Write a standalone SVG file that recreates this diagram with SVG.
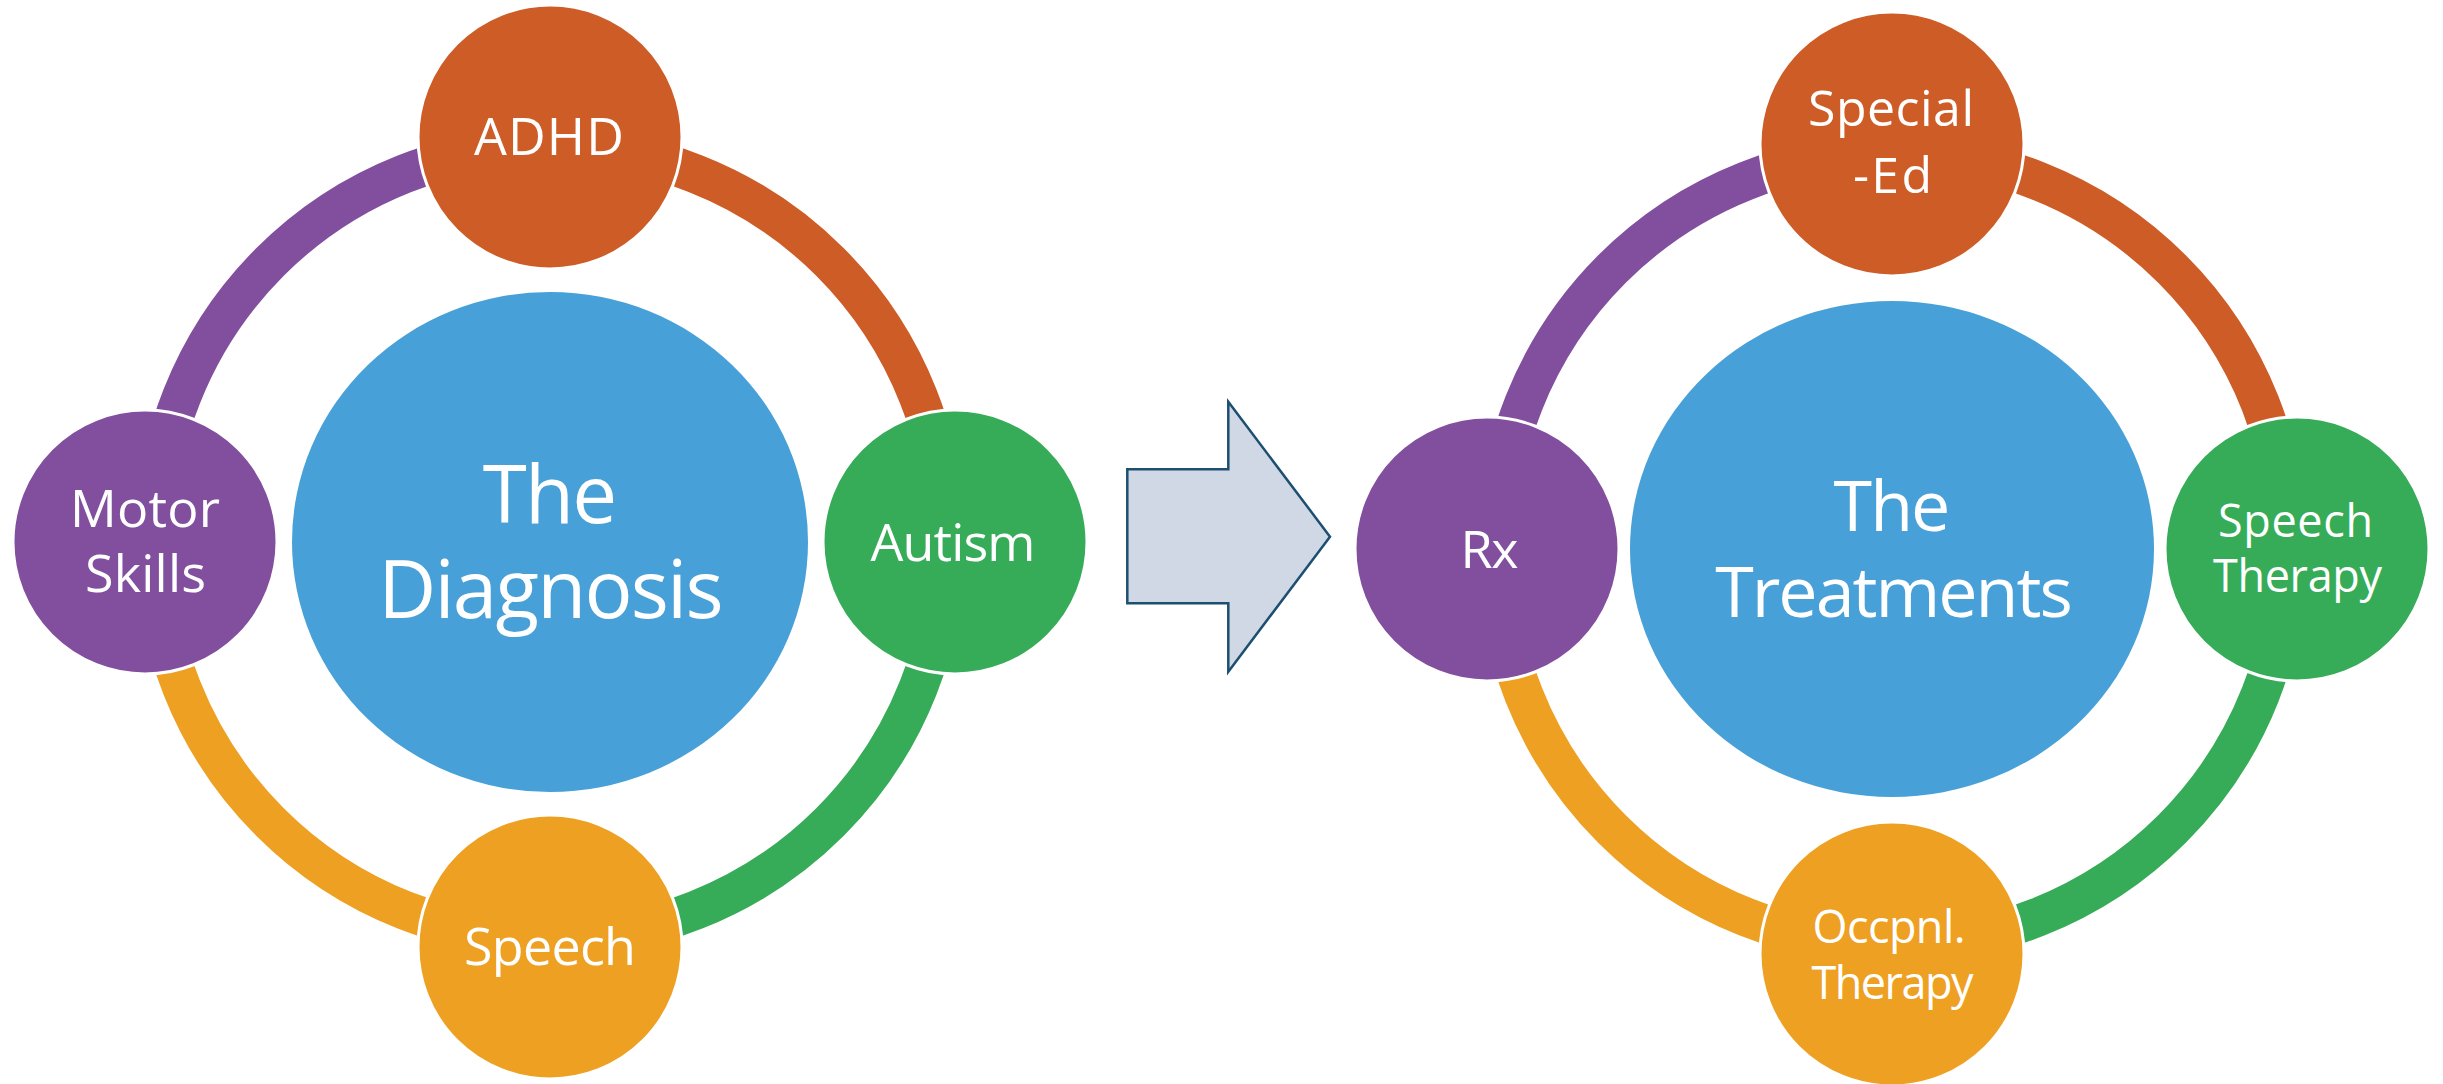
<svg xmlns="http://www.w3.org/2000/svg" width="2443" height="1084" viewBox="0 0 2443 1084">
<style>
.bg{fill:#ffffff}
.ring{fill:none;stroke-width:39}
.node{stroke:#ffffff;stroke-width:3}
.hub{fill:#47A0D7}
.orange{fill:#CD5C27}.green{fill:#36AB58}.gold{fill:#EEA023}.purple{fill:#824F9E}
.s-orange{stroke:#CD5C27}.s-green{stroke:#36AB58}.s-gold{stroke:#EEA023}.s-purple{stroke:#824F9E}
text{fill:#ffffff;font-family:"Open Sans","Noto Sans","DejaVu Sans",sans-serif;text-anchor:middle}
.t52{font-size:52px}.t50{font-size:50px}.t45{font-size:45px}
.t80{font-size:80px;letter-spacing:-1.8px}.t70{font-size:70px;letter-spacing:-2px}
.arrow{fill:#CFD8E4;stroke:#1D4F70;stroke-width:2.5;stroke-linejoin:miter}
</style>
<rect class="bg" x="0" y="0" width="2443" height="1084"/>
<g id="connectors">
  <path class="ring s-orange" d="M 550 146 A 396 396 0 0 1 946 542"/>
  <path class="ring s-green" d="M 946 542 A 396 396 0 0 1 550 938"/>
  <path class="ring s-gold" d="M 550 938 A 396 396 0 0 1 154 542"/>
  <path class="ring s-purple" d="M 154 542 A 396 396 0 0 1 550 146"/>
  <path class="ring s-orange" d="M 1892 153 A 396 396 0 0 1 2288 549"/>
  <path class="ring s-green" d="M 2288 549 A 396 396 0 0 1 1892 945"/>
  <path class="ring s-gold" d="M 1892 945 A 396 396 0 0 1 1496 549"/>
  <path class="ring s-purple" d="M 1496 549 A 396 396 0 0 1 1892 153"/>
</g>
<g id="diagnosis">
  <ellipse class="hub" cx="550" cy="542" rx="258" ry="250"/>
  <text class="t80"><tspan x="549" y="523">The</tspan><tspan x="550" y="618">Diagnosis</tspan></text>
</g>
<g id="adhd">
  <circle class="node orange" cx="550" cy="137" r="132"/>
  <text class="t52" x="549" y="155" textLength="150">ADHD</text>
</g>
<g id="autism">
  <circle class="node green" cx="955" cy="542" r="132"/>
  <text class="t52" x="953" y="561" textLength="165">Autism</text>
</g>
<g id="speech">
  <circle class="node gold" cx="550" cy="947" r="132"/>
  <text class="t52" x="550" y="965" textLength="172">Speech</text>
</g>
<g id="motor-skills">
  <circle class="node purple" cx="145" cy="542" r="132"/>
  <text class="t52" x="145" y="527" textLength="150">Motor</text>
  <text class="t52" x="145.5" y="592" textLength="121">Skills</text>
</g>
<g id="arrow">
  <polygon class="arrow" points="1127.3,469.3 1228.3,469.3 1228.3,401.7 1330,536.7 1228.3,671.7 1228.3,603.3 1127.3,603.3"/>
</g>
<g id="treatments">
  <ellipse class="hub" cx="1892" cy="549" rx="262" ry="248"/>
  <text class="t70"><tspan x="1891" y="531">The</tspan><tspan x="1893" y="617">Treatments</tspan></text>
</g>
<g id="special-ed">
  <circle class="node orange" cx="1892" cy="144" r="132"/>
  <text class="t50" x="1891" y="126" textLength="166">Special</text>
  <text class="t50" x="1892.5" y="193" textLength="79">-Ed</text>
</g>
<g id="speech-therapy">
  <circle class="node green" cx="2297" cy="549" r="132"/>
  <text class="t45" x="2295.5" y="537" textLength="155">Speech</text>
  <text class="t45" x="2297.5" y="592" textLength="169">Therapy</text>
</g>
<g id="occpnl-therapy">
  <circle class="node gold" cx="1892" cy="954" r="132"/>
  <text class="t45" x="1889" y="943" textLength="153">Occpnl.</text>
  <text class="t45" x="1892.5" y="999" textLength="162">Therapy</text>
</g>
<g id="rx">
  <circle class="node purple" cx="1487" cy="549" r="132"/>
  <text class="t52" x="1489.5" y="568" textLength="58">Rx</text>
</g>
</svg>
